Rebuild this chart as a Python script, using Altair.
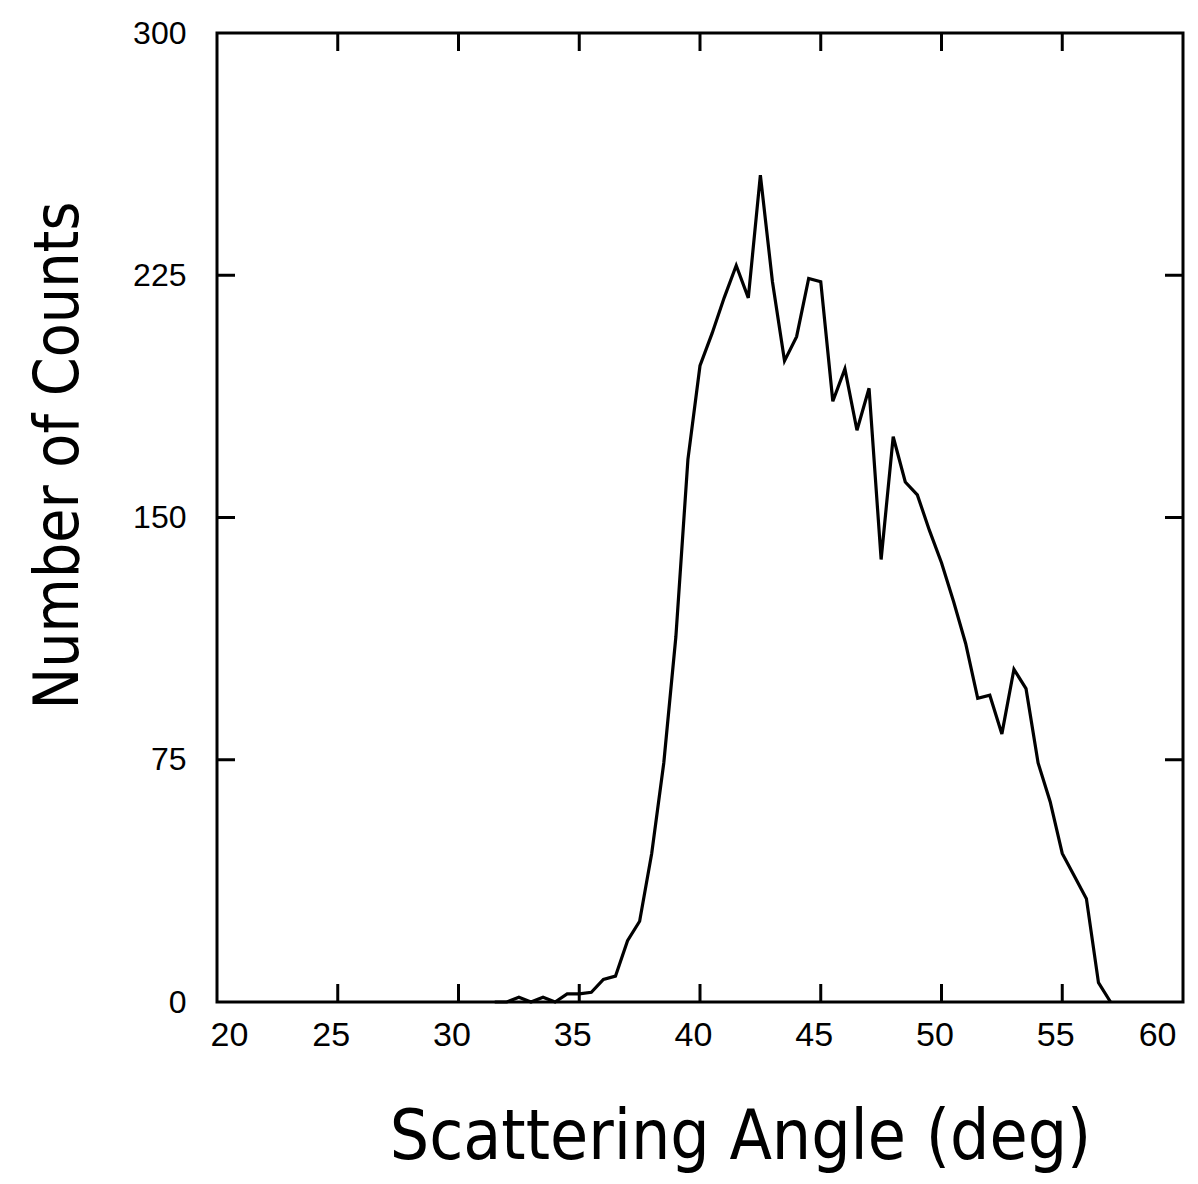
import altair as alt
import pandas as pd

angles = [31.5, 32.0, 32.5, 33.0, 33.5, 34.0, 34.5, 35.0, 35.5, 36.0, 36.5, 37.0,
          37.5, 38.0, 38.5, 39.0, 39.5, 40.0, 40.5, 41.0, 41.5, 42.0, 42.5, 43.0,
          43.5, 44.0, 44.5, 45.0, 45.5, 46.0, 46.5, 47.0, 47.5, 48.0, 48.5, 49.0,
          49.5, 50.0, 50.5, 51.0, 51.5, 52.0, 52.5, 53.0, 53.5, 54.0, 54.5, 55.0,
          55.5, 56.0, 56.5, 57.0]
counts = [0, 0, 1.5, 0, 1.5, 0, 2.5, 2.5, 3, 7, 8, 19,
          25, 46, 74, 113, 168, 197, 207, 218, 228, 218, 256, 223,
          198.5, 206, 224, 223, 186, 196, 177, 190, 137, 175, 161, 157,
          146, 136, 124, 111, 94, 95, 83, 103, 97, 74, 62, 46,
          39, 32, 6, 0]

x_ticks = [20, 25, 30, 35, 40, 45, 50, 55, 60]
y_ticks = [0, 75, 150, 225, 300]
x_inner = [25, 30, 35, 40, 45, 50, 55]
y_inner = [75, 150, 225]

W, H = 966, 969
TL = 18

df = pd.DataFrame({"angle": angles, "counts": counts})
xt = pd.DataFrame({"angle": x_inner})
yt = pd.DataFrame({"counts": y_inner})

xscale = alt.Scale(domain=[20, 60], nice=False, zero=False)
yscale = alt.Scale(domain=[0, 300], nice=False)

label_font = "Liberation Sans"
title_font = "DejaVu Sans Condensed"

xaxis = alt.Axis(values=x_ticks, title="Scattering Angle (deg)", ticks=False,
                 domain=False, grid=False, labelFont=label_font, labelFontSize=34,
                 labelColor="black", labelPadding=16, labelOffset=-7,
                 titleFont=title_font, titleFontSize=69, titleFontWeight="normal",
                 titleColor="black", titleX=523, titleY=156,
                 titleBaseline="alphabetic", titleAlign="center")
yaxis = alt.Axis(values=y_ticks, title="Number of Counts", ticks=False,
                 domain=False, grid=False, labelFont=label_font, labelFontSize=32,
                 labelColor="black", labelPadding=31, labelBaseline="middle",
                 titleFont=title_font, titleFontSize=62, titleFontWeight="normal",
                 titleColor="black", titleX=-140, titleY=422, titleAngle=-90,
                 titleBaseline="alphabetic", titleAlign="center")

X = alt.X("angle:Q", scale=xscale, axis=xaxis)
Y = alt.Y("counts:Q", scale=yscale, axis=yaxis)

line = alt.Chart(df).mark_line(color="black", strokeWidth=3.2, strokeJoin="miter").encode(
    x=X, y=Y)

tick_style = dict(color="black", strokeWidth=3)

bottom = alt.Chart(xt).mark_rule(**tick_style).encode(
    x=X, y=alt.value(H), y2=alt.value(H - TL))
top = alt.Chart(xt).mark_rule(**tick_style).encode(
    x=X, y=alt.value(0), y2=alt.value(TL))
left = alt.Chart(yt).mark_rule(**tick_style).encode(
    y=Y, x=alt.value(0), x2=alt.value(TL))
right = alt.Chart(yt).mark_rule(**tick_style).encode(
    y=Y, x=alt.value(W), x2=alt.value(W - TL))

chart = alt.layer(line, bottom, top, left, right).properties(
    width=W, height=H,
    autosize=alt.AutoSizeParams(type="none"),
    padding={"left": 217, "top": 33, "right": 15, "bottom": 182},
    background="white",
).configure_view(stroke="black", strokeWidth=3)

chart.save("out.html", embed_options={"renderer": "svg", "actions": False})
